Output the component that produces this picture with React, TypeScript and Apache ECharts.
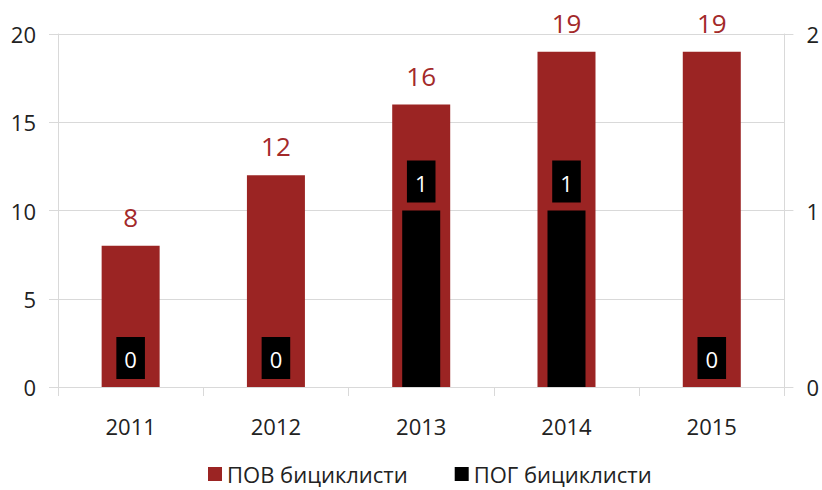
import React, { useEffect, useRef } from "react";
import * as echarts from "echarts";

const categories = ["2011", "2012", "2013", "2014", "2015"];
const povValues = [8, 12, 16, 19, 19];
const pogValues = [0, 0, 1, 1, 0];
const leftTicks = { min: 0, max: 20, interval: 5 };
const rightTicks = { min: 0, max: 2, interval: 1 };
const seriesNames = ["ПОВ бициклисти", "ПОГ бициклисти"];

const FONT = "'Open Sans', 'Noto Sans', sans-serif";
const GRID = "#d9d9d9";
const RED = "#9b2423";

export default function App() {
  const ref = useRef<HTMLDivElement>(null);
  useEffect(() => {
    if (!ref.current) return;
    document.body.style.margin = "0";
    const chart = echarts.init(ref.current, null, { renderer: "svg" });
    const axisCommon = {
      axisLine: { show: true, lineStyle: { color: GRID, width: 1 } },
      axisTick: { show: true, length: 9, lineStyle: { color: GRID } },
      splitLine: { show: true, lineStyle: { color: GRID, width: 1 } },
      axisLabel: { color: "#222", fontSize: 22, fontFamily: FONT, margin: 22 },
    };
    chart.setOption({
      animation: false,
      grid: { left: 58, right: 34, top: 34, bottom: 103, containLabel: false },
      legend: {
        top: 457,
        left: 203,
        itemWidth: 14,
        itemHeight: 14,
        itemGap: 47,
        icon: "rect",
        textStyle: { fontSize: 22, fontFamily: FONT, color: "#222", lineHeight: 24 },
        data: seriesNames,
      },
      xAxis: [
        {
          type: "category",
          data: categories,
          axisLine: { show: true, lineStyle: { color: GRID } },
          axisTick: { show: true, length: 9, lineStyle: { color: GRID } },
          splitLine: { show: false },
          axisLabel: { color: "#222", fontSize: 22, fontFamily: FONT, margin: 28 },
        },
        {
          type: "category",
          data: categories,
          show: false,
          position: "bottom",
        },
      ],
      yAxis: [
        { type: "value", ...leftTicks, ...axisCommon, position: "left" },
        { type: "value", ...rightTicks, ...axisCommon, position: "right" },
      ],
      series: [
        {
          name: seriesNames[0],
          type: "bar",
          xAxisIndex: 0,
          yAxisIndex: 0,
          data: povValues,
          barWidth: 58,
          itemStyle: { color: RED },
          label: {
            show: true,
            position: "top",
            distance: 16,
            color: "#a3292a",
            fontSize: 26,
            fontFamily: FONT,
          },
          z: 2,
        },
        {
          name: seriesNames[1],
          type: "bar",
          xAxisIndex: 1,
          yAxisIndex: 1,
          data: pogValues,
          barWidth: 38,
          itemStyle: { color: "#000" },
          label: {
            show: true,
            position: "top",
            distance: 8,
            color: "#fff",
            fontSize: 22,
            fontFamily: FONT,
            backgroundColor: "#000",
            padding: [10, 8, 8, 8],
            lineHeight: 24,
          },
          z: 3,
        },
      ],
    });
    return () => chart.dispose();
  }, []);
  return <div ref={ref} style={{ width: 822, height: 490 }} />;
}
